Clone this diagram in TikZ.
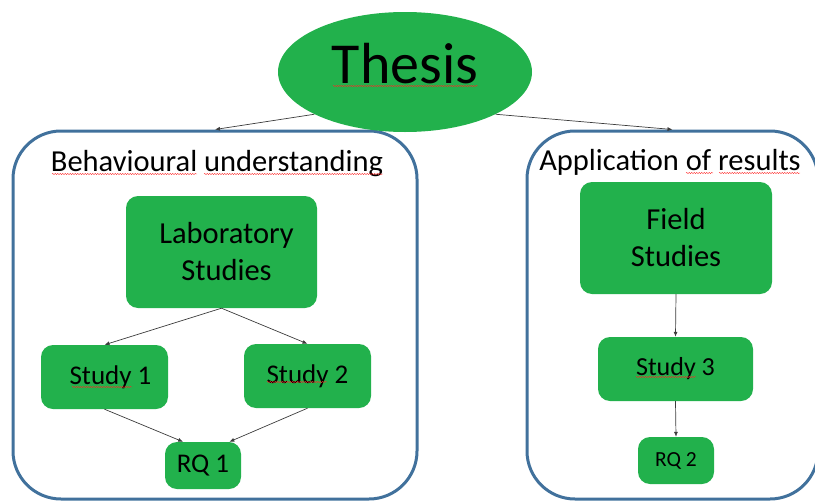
\documentclass[tikz,border=0pt]{standalone}
\usepackage{fontspec}
\setmainfont{Carlito}
\usetikzlibrary{shapes.geometric,arrows.meta,decorations.pathmorphing}

\definecolor{boxgreen}{RGB}{34,177,76}
\definecolor{frameblue}{RGB}{65,113,156}
\definecolor{linegray}{RGB}{60,60,60}

\begin{document}
\begin{tikzpicture}[x=1pt,y=-1pt,
  stage/.style={draw=frameblue,line width=3pt,rounded corners=48pt},
  gbox/.style={fill=boxgreen,rounded corners=12pt,align=center,inner sep=0pt,font=\fontsize{27}{36}\selectfont},
  bigbox/.style={gbox,minimum width=191pt,minimum height=112pt,font=\fontsize{30.5}{37}\selectfont},
  heading/.style={anchor=base,font=\fontsize{30.5}{36}\selectfont},
  link/.style={draw=linegray,line width=0.7pt,-{Latex[length=5pt,width=4pt]}},
  spell/.style={draw=red!85!white,line width=0.4pt,decorate,decoration={snake,amplitude=0.6pt,segment length=2.5pt}}]

\useasboundingbox (0,0) rectangle (815,501);

% Frames
\node[stage,minimum width=404pt,minimum height=368pt] (behav) at (215,315) {};
\node[stage,minimum width=291pt,minimum height=368pt] (appl) at (672.5,315) {};

% Thesis
\node[ellipse,fill=boxgreen,minimum width=254pt,minimum height=120pt,inner sep=0pt] (thesis) at (405,72) {};
\node[anchor=base,font=\fontsize{58}{62}\selectfont] (thesistxt) at (405,83) {Thesis};

% Headings
\node[heading] (behavtxt) at (217,171) {Behavioural understanding};
\node[heading] (appltxt) at (670,170) {Application of results};

% Left side
\node[bigbox] (lab) at (221.5,252) {\hspace*{10pt}Laboratory\\\hspace*{10pt}Studies};
\node[gbox,minimum width=127pt,minimum height=64pt] (s1) at (104.5,377) {\hspace*{12pt}Study 1};
\node[gbox,minimum width=127pt,minimum height=64pt] (s2) at (307.5,376) {Study 2};
\node[gbox,minimum width=76pt,minimum height=47pt] (rq1) at (203,465.5) {RQ 1};

% Right side
\node[bigbox,minimum width=192pt] (field) at (676,238) {Field\\Studies};
\node[gbox,minimum width=155pt,minimum height=64pt,font=\fontsize{26}{30}\selectfont] (s3) at (675.5,369) {Study 3};
\node[gbox,minimum width=76pt,minimum height=47pt,font=\fontsize{21.5}{24}\selectfont] (rq2) at (676,460.5) {RQ 2};

% Connectors
\draw[link] (thesis.205) -- (behav.north);
\draw[link] (thesis.335) -- (appl.north);
\draw[link] (lab.south) -- (s1.north);
\draw[link] (lab.south) -- (s2.north);
\draw[link] (s1.south) -- (rq1.130);
\draw[link] (s2.south) -- (rq1.42);
\draw[link] (field.south) -- (s3.north);
\draw[link] (s3.south) -- (rq2.north);

% Spelling marks
\draw[spell] (333,86) -- (478,86);
\draw[spell] (52,174) -- (197,174);
\draw[spell] (204,174) -- (383,174);
\draw[spell] (686,173) -- (713,173);
\draw[spell] (719,173) -- (800,173);
\draw[spell] (72,387) -- (132,387);
\draw[spell] (267,382) -- (327,382);
\draw[spell] (636,377) -- (696,377);

\end{tikzpicture}
\end{document}
